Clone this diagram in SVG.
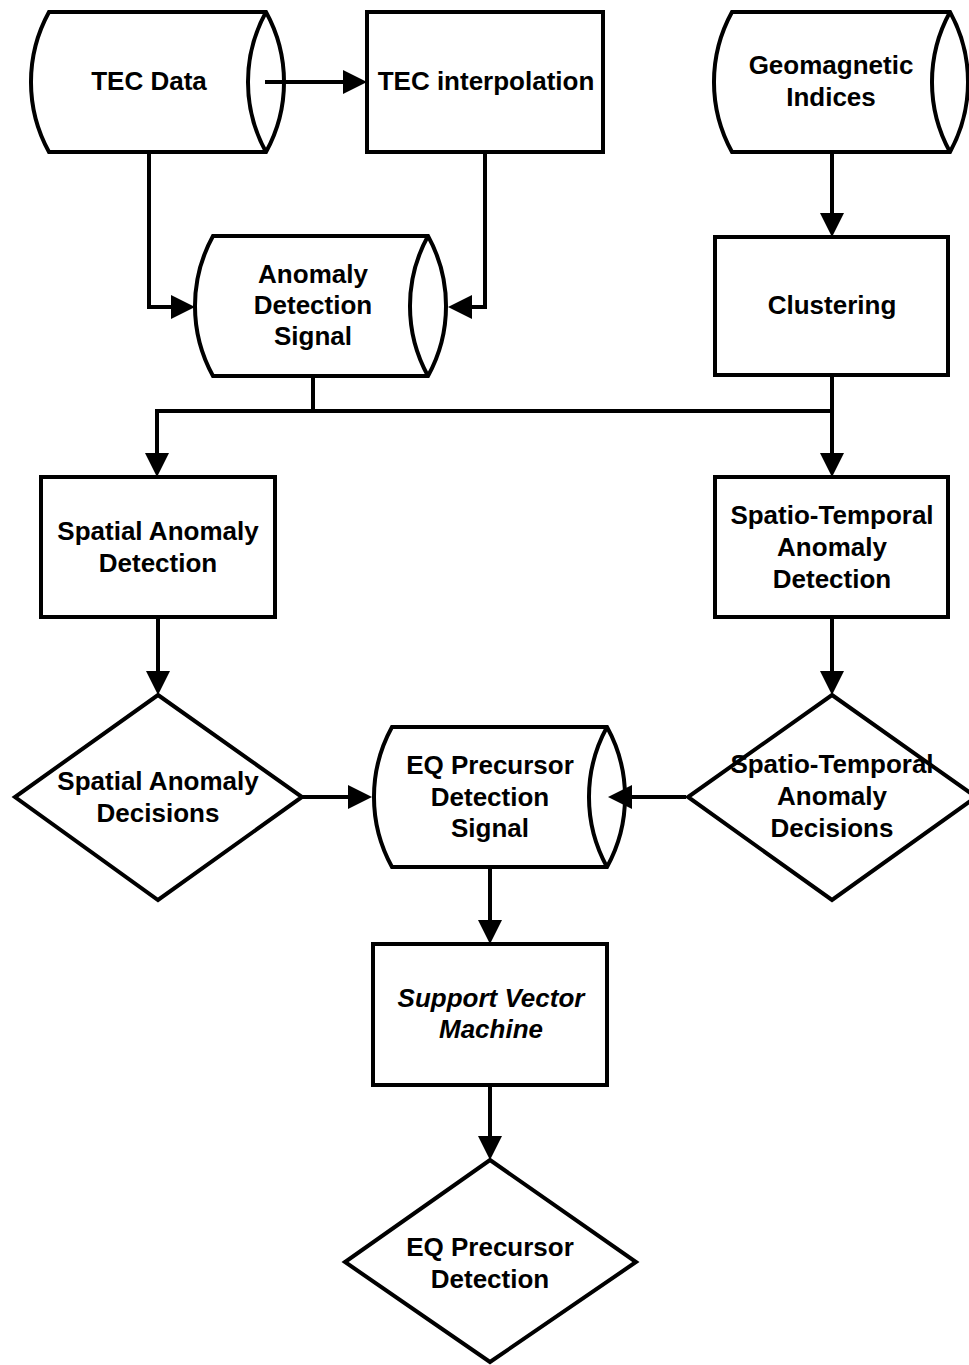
<svg xmlns="http://www.w3.org/2000/svg" width="969" height="1365" viewBox="0 0 969 1365">
<style>
.s{fill:#fff;stroke:#000;stroke-width:4;stroke-linejoin:miter}
.l{fill:none;stroke:#000;stroke-width:4}
.c{fill:none;stroke:#000;stroke-width:4;stroke-linejoin:miter;stroke-linecap:butt}
.t{font-family:"Liberation Sans",Arial,sans-serif;font-weight:bold;font-size:26px;text-anchor:middle;fill:#000}
.i{font-style:italic}
</style>
<defs>
<marker id="ah" markerUnits="userSpaceOnUse" markerWidth="24" markerHeight="24" refX="0" refY="12" orient="auto" overflow="visible">
<path d="M0,0 L24,12 L0,24 Z" fill="#000"/>
</marker>
</defs>
<rect width="969" height="1365" fill="#fff"/>

<g id="tec-data">
<path class="s" d="M49,12 H266 A145,145 0 0 1 266,152 H49 A145,145 0 0 1 49,12 Z"/>
<path class="l" d="M266,12 A145,145 0 0 0 266,152"/>
<text class="t" x="149" y="90">TEC Data</text>
</g>

<g id="tec-interpolation">
<rect class="s" x="367" y="12" width="236" height="140"/>
<text class="t" x="486" y="90">TEC interpolation</text>
</g>

<g id="geomagnetic-indices">
<path class="s" d="M732,12 H950 A145,145 0 0 1 950,152 H732 A145,145 0 0 1 732,12 Z"/>
<path class="l" d="M950,12 A145,145 0 0 0 950,152"/>
<text class="t" x="831" y="74">Geomagnetic</text>
<text class="t" x="831" y="106">Indices</text>
</g>

<g id="anomaly-detection-signal">
<path class="s" d="M213,236 H428 A145,145 0 0 1 428,376 H213 A145,145 0 0 1 213,236 Z"/>
<path class="l" d="M428,236 A145,145 0 0 0 428,376"/>
<text class="t" x="313" y="283">Anomaly</text>
<text class="t" x="313" y="314">Detection</text>
<text class="t" x="313" y="345">Signal</text>
</g>

<g id="clustering">
<rect class="s" x="715" y="237" width="233" height="138"/>
<text class="t" x="832" y="314">Clustering</text>
</g>

<g id="spatial-anomaly-detection">
<rect class="s" x="41" y="477" width="234" height="140"/>
<text class="t" x="158" y="540">Spatial Anomaly</text>
<text class="t" x="158" y="572">Detection</text>
</g>

<g id="spatio-temporal-anomaly-detection">
<rect class="s" x="715" y="477" width="233" height="140"/>
<text class="t" x="832" y="524">Spatio-Temporal</text>
<text class="t" x="832" y="556">Anomaly</text>
<text class="t" x="832" y="588">Detection</text>
</g>

<g id="spatial-anomaly-decisions">
<path class="s" d="M158,695 L302,797 L158,900 L15,797 Z"/>
<text class="t" x="158" y="790">Spatial Anomaly</text>
<text class="t" x="158" y="822">Decisions</text>
</g>

<g id="eq-precursor-detection-signal">
<path class="s" d="M392,727 H607 A145,145 0 0 1 607,867 H392 A145,145 0 0 1 392,727 Z"/>
<path class="l" d="M607,727 A145,145 0 0 0 607,867"/>
<text class="t" x="490" y="774">EQ Precursor</text>
<text class="t" x="490" y="806">Detection</text>
<text class="t" x="490" y="837">Signal</text>
</g>

<g id="spatio-temporal-anomaly-decisions">
<path class="s" d="M832,695 L976,797 L832,900 L688,797 Z"/>
<text class="t" x="832" y="773">Spatio-Temporal</text>
<text class="t" x="832" y="805">Anomaly</text>
<text class="t" x="832" y="837">Decisions</text>
</g>

<g id="support-vector-machine">
<rect class="s" x="373" y="944" width="234" height="141"/>
<text class="t i" x="491" y="1007">Support Vector</text>
<text class="t i" x="491" y="1038">Machine</text>
</g>

<g id="eq-precursor-detection">
<path class="s" d="M490,1160 L636,1262 L490,1362 L345,1262 Z"/>
<text class="t" x="490" y="1256">EQ Precursor</text>
<text class="t" x="490" y="1288">Detection</text>
</g>

<g id="connectors">
<path class="c" d="M265,82 H343" stroke-linecap="round" marker-end="url(#ah)"/>
<path class="c" d="M149,154 V307 H171" marker-end="url(#ah)"/>
<path class="c" d="M485,154 V307 H472" marker-end="url(#ah)"/>
<path class="c" d="M832,154 V213" marker-end="url(#ah)"/>
<path class="c" d="M313,378 V411"/>
<path class="c" d="M832,411 H157 V453" marker-end="url(#ah)"/>
<path class="c" d="M832,377 V453" marker-end="url(#ah)"/>
<path class="c" d="M158,619 V671" marker-end="url(#ah)"/>
<path class="c" d="M832,619 V671" marker-end="url(#ah)"/>
<path class="c" d="M302,797 H348" marker-end="url(#ah)"/>
<path class="c" d="M686,797 H632" marker-end="url(#ah)"/>
<path class="c" d="M490,869 V920" marker-end="url(#ah)"/>
<path class="c" d="M490,1087 V1136" marker-end="url(#ah)"/>
</g>
</svg>
